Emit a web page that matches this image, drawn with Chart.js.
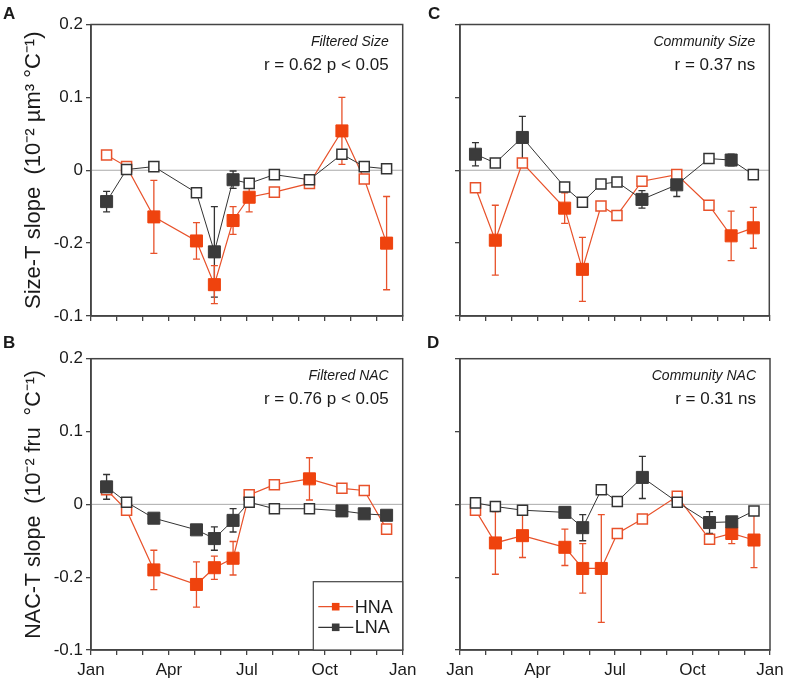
<!DOCTYPE html>
<html>
<head>
<meta charset="utf-8">
<script src="https://cdn.jsdelivr.net/npm/chart.js@4.4.1/dist/chart.umd.min.js"></script>
<style>
  html, body { margin: 0; padding: 0; background: #fff; }
  body { width: 787px; height: 683px; position: relative; overflow: hidden; }
  canvas { position: absolute; }
</style>
</head>
<body>
<canvas id="cA" width="425" height="340" style="left:0px;top:0px;"></canvas>
<canvas id="cC" width="377" height="340" style="left:410px;top:0px;"></canvas>
<canvas id="cB" width="425" height="353" style="left:0px;top:330px;"></canvas>
<canvas id="cD" width="377" height="353" style="left:410px;top:330px;"></canvas>
<script>
// ---------- data ----------
const months = [0.6, 1.37, 2.42, 4.06, 4.75, 5.47, 6.09, 7.06, 8.41, 9.66, 10.52, 11.38];
const xTickLabels = {0: 'Jan', 3: 'Apr', 6: 'Jul', 9: 'Oct', 12: 'Jan'};
// y tick labels as printed, top to bottom
const yTickLabelsTopDown = ['0.2', '0.1', '0', '-0.2', '-0.1'];
const seriesNames = ['HNA', 'LNA'];

// Panel A: Filtered Size
const hnaA = [0.021, 0.005, -0.064, -0.097, -0.157, -0.069, -0.037, -0.030, -0.018, 0.054, -0.012, -0.100];
const hnaAErr = [0, 0, 0.050, 0.025, 0.026, 0.019, 0.020, 0, 0, 0.046, 0, 0.064];
const hnaAFilled = [0, 0, 1, 1, 1, 1, 1, 0, 0, 1, 0, 1];
const lnaA = [-0.043, 0.001, 0.005, -0.031, -0.112, -0.013, -0.018, -0.006, -0.013, 0.022, 0.005, 0.002];
const lnaAErr = [0.014, 0, 0, 0, 0.062, 0.012, 0, 0, 0, 0, 0, 0];
const lnaAFilled = [1, 0, 0, 0, 1, 1, 0, 0, 0, 0, 0, 0];

// Panel B: Filtered NAC
const hnaB = [0.020, -0.008, -0.090, -0.110, -0.087, -0.074, 0.013, 0.027, 0.035, 0.022, 0.019, -0.034];
const hnaBErr = [0, 0, 0.027, 0.031, 0.016, 0.023, 0, 0, 0.029, 0, 0, 0];
const hnaBFilled = [0, 0, 1, 1, 1, 1, 0, 0, 1, 0, 0, 0];
const lnaB = [0.024, 0.003, -0.019, -0.035, -0.047, -0.022, 0.003, -0.006, -0.006, -0.009, -0.013, -0.015];
const lnaBErr = [0.017, 0, 0, 0, 0.016, 0.016, 0, 0, 0, 0.005, 0.006, 0.006];
const lnaBFilled = [1, 0, 1, 1, 1, 1, 0, 0, 0, 1, 1, 1];

// Panel C: Community Size
const hnaC = [-0.024, -0.096, 0.010, -0.052, -0.136, -0.049, -0.062, -0.015, -0.006, -0.048, -0.090, -0.079];
const hnaCErr = [0, 0.048, 0, 0.021, 0.044, 0, 0, 0, 0, 0, 0.034, 0.028];
const hnaCFilled = [0, 1, 0, 1, 1, 0, 0, 0, 0, 0, 1, 1];
const lnaC = [0.022, 0.010, 0.045, -0.023, -0.044, -0.019, -0.016, -0.040, -0.020, 0.016, 0.014, -0.006];
const lnaCErr = [0.016, 0, 0.029, 0, 0, 0, 0, 0.012, 0.016, 0, 0.008, 0];
const lnaCFilled = [1, 0, 1, 0, 0, 0, 0, 1, 1, 0, 1, 0];

// Panel D: Community NAC
const hnaD = [-0.008, -0.053, -0.043, -0.059, -0.088, -0.088, -0.040, -0.020, 0.011, -0.048, -0.040, -0.049];
const hnaDErr = [0, 0.043, 0.030, 0.025, 0.034, 0.074, 0, 0, 0, 0, 0.014, 0.038];
const hnaDFilled = [0, 1, 1, 1, 1, 1, 0, 0, 0, 0, 1, 1];
const lnaD = [0.002, -0.003, -0.008, -0.011, -0.032, 0.020, 0.004, 0.037, 0.003, -0.025, -0.024, -0.009];
const lnaDErr = [0, 0, 0, 0, 0.018, 0, 0, 0.029, 0, 0.015, 0, 0];
const lnaDFilled = [0, 0, 0, 1, 1, 0, 0, 1, 0, 1, 1, 0];

// ---------- styles ----------
const FONT = "'Liberation Sans', Arial, Helvetica, sans-serif";
const RED_FILL = '#EF430E', RED_LINE = '#E8522B';
const BLK_FILL = '#3B3B3B', BLK_LINE = '#333333';
const AXIS = '#444444';

function makeDataset(label, vals, errs, filled, fill, line, lw) {
  return {
    label: label,
    data: months.map((m, i) => ({x: m, y: vals[i]})),
    errs: errs,
    errColor: line,
    showLine: true,
    borderColor: line,
    borderWidth: lw,
    pointStyle: 'rect',
    pointRadius: c => filled[c.dataIndex] ? 8.5 : 7.1,
    pointHoverRadius: c => filled[c.dataIndex] ? 8.5 : 7.1,
    pointBackgroundColor: c => filled[c.dataIndex] ? fill : '#ffffff',
    pointBorderColor: c => filled[c.dataIndex] ? fill : line,
    pointBorderWidth: c => filled[c.dataIndex] ? 1 : 1.5,
    tension: 0
  };
}

const panelPlugin = {
  id: 'panelPlugin',
  beforeDatasetsDraw(chart) {
    const {ctx, chartArea: a, scales: {x, y}} = chart;
    ctx.save();
    // zero line
    const y0 = y.getPixelForValue(0);
    ctx.strokeStyle = '#ababab';
    ctx.lineWidth = 1;
    ctx.beginPath(); ctx.moveTo(a.left, y0); ctx.lineTo(a.right, y0); ctx.stroke();
    // error bars
    chart.data.datasets.forEach(ds => {
      ctx.strokeStyle = ds.errColor;
      ctx.lineWidth = 1.3;
      ds.data.forEach((p, i) => {
        const e = ds.errs[i];
        if (!e) return;
        const px = x.getPixelForValue(p.x);
        const yt = y.getPixelForValue(p.y + e);
        const yb = y.getPixelForValue(p.y - e);
        ctx.beginPath();
        ctx.moveTo(px, yt); ctx.lineTo(px, yb);
        ctx.moveTo(px - 3.5, yt); ctx.lineTo(px + 3.5, yt);
        ctx.moveTo(px - 3.5, yb); ctx.lineTo(px + 3.5, yb);
        ctx.stroke();
      });
    });
    ctx.restore();
  },
  afterDraw(chart) {
    const {ctx, chartArea: a} = chart;
    const o = chart.options.plugins.panelPlugin;
    ctx.save();
    // frame
    ctx.strokeStyle = AXIS;
    ctx.lineWidth = 1.5;
    ctx.strokeRect(a.left, a.top, a.right - a.left, a.bottom - a.top);
    // annotations
    ctx.fillStyle = '#1a1a1a';
    ctx.textAlign = 'right';
    ctx.textBaseline = 'middle';
    ctx.font = 'italic 14px ' + FONT;
    ctx.fillText(o.title, a.right - 14, a.top + 17.5);
    ctx.font = '17px ' + FONT;
    ctx.fillText(o.stat, a.right - 14, a.top + 40.5);
    // panel letter
    ctx.textAlign = 'left';
    ctx.font = 'bold 17px ' + FONT;
    ctx.fillText(o.letter, o.letterX, o.letterY);
    // legend
    if (o.legend) {
      const lx = 313.3, ly = a.bottom - 68.3;
      ctx.fillStyle = '#fff';
      ctx.fillRect(lx, ly, a.right - lx, a.bottom - ly);
      ctx.strokeStyle = AXIS;
      ctx.lineWidth = 1.2;
      ctx.strokeRect(lx, ly, a.right - lx, a.bottom - ly);
      const items = [
        {name: seriesNames[0], line: RED_LINE, fill: RED_FILL, yy: ly + 25},
        {name: seriesNames[1], line: BLK_LINE, fill: BLK_FILL, yy: ly + 45.6}
      ];
      items.forEach(it => {
        ctx.strokeStyle = it.line;
        ctx.lineWidth = 1.2;
        ctx.beginPath(); ctx.moveTo(lx + 5, it.yy); ctx.lineTo(lx + 40, it.yy); ctx.stroke();
        ctx.fillStyle = it.fill;
        ctx.fillRect(lx + 22.4 - 3.8, it.yy - 3.8, 7.6, 7.6);
        ctx.fillStyle = '#1a1a1a';
        ctx.font = '18px ' + FONT;
        ctx.textAlign = 'left';
        ctx.fillText(it.name, lx + 41.5, it.yy + 1);
      });
    }
    ctx.restore();
  }
};

function makeChart(id, cfg) {
  const yLabelsBottomUp = yTickLabelsTopDown.slice().reverse();
  return new Chart(document.getElementById(id), {
    type: 'scatter',
    data: {
      datasets: [
        makeDataset(seriesNames[1], cfg.lna, cfg.lnaErr, cfg.lnaFilled, BLK_FILL, BLK_LINE, 1),
        makeDataset(seriesNames[0], cfg.hna, cfg.hnaErr, cfg.hnaFilled, RED_FILL, RED_LINE, 1.2)
      ]
    },
    options: {
      responsive: false,
      animation: false,
      devicePixelRatio: 1,
      layout: {padding: {left: 0, top: cfg.padTop, right: cfg.padRight, bottom: 0}},
      plugins: {
        legend: {display: false},
        tooltip: {enabled: false},
        panelPlugin: {title: cfg.title, stat: cfg.stat, letter: cfg.letter,
                      letterX: cfg.letterX, letterY: cfg.letterY, legend: cfg.legend}
      },
      scales: {
        x: {
          type: 'linear', min: 0, max: 12,
          afterFit: s => { s.height = cfg.xH; s.paddingLeft = 0; s.paddingRight = 0; },
          ticks: {
            stepSize: 1, autoSkip: false, maxRotation: 0, padding: 5,
            color: '#1a1a1a', font: {family: FONT, size: 17},
            callback: v => cfg.xLabels ? (xTickLabels[Math.round(v)] || '') : ''
          },
          grid: {drawOnChartArea: false, drawTicks: true, tickLength: 5, color: AXIS, lineWidth: 1.3},
          border: {display: true, color: AXIS, width: 1.5}
        },
        y: {
          type: 'linear', min: -0.2, max: 0.2,
          afterFit: s => { s.width = cfg.yW; s.paddingTop = 0; s.paddingBottom = 0; },
          ticks: {
            stepSize: 0.1, padding: 3, display: cfg.yLabels,
            color: '#1a1a1a', font: {family: FONT, size: 17},
            callback: (v, i) => yLabelsBottomUp[i]
          },
          title: {
            display: !!cfg.yTitle, text: cfg.yTitle || '',
            color: '#1a1a1a', font: {family: FONT, size: cfg.yTitleSize || 21.5},
            padding: {top: 21, bottom: 0}
          },
          grid: {drawOnChartArea: false, drawTicks: true, tickLength: 5, color: AXIS, lineWidth: 1.3},
          border: {display: true, color: AXIS, width: 1.5}
        }
      }
    },
    plugins: [panelPlugin]
  });
}

makeChart('cA', {hna: hnaA, hnaErr: hnaAErr, hnaFilled: hnaAFilled, lna: lnaA, lnaErr: lnaAErr, lnaFilled: lnaAFilled,
  title: 'Filtered Size', stat: 'r = 0.62 p < 0.05', letter: 'A', letterX: 3, letterY: 14.5,
  padTop: 24.5, padRight: 22.3, xH: 24, yW: 91, xLabels: false, yLabels: true, yTitleSize: 22,
  yTitle: 'Size-T slope  (10\u207B\u00B2 \u00B5m\u00B3 \u00B0C\u207B\u00B9)'});
makeChart('cC', {hna: hnaC, hnaErr: hnaCErr, hnaFilled: hnaCFilled, lna: lnaC, lnaErr: lnaCErr, lnaFilled: lnaCFilled,
  title: 'Community Size', stat: 'r = 0.37 ns', letter: 'C', letterX: 18, letterY: 14.5,
  padTop: 24.5, padRight: 17.7, xH: 24, yW: 50, xLabels: false, yLabels: false});
makeChart('cB', {hna: hnaB, hnaErr: hnaBErr, hnaFilled: hnaBFilled, lna: lnaB, lnaErr: lnaBErr, lnaFilled: lnaBFilled,
  title: 'Filtered NAC', stat: 'r = 0.76 p < 0.05', letter: 'B', letterX: 3, letterY: 13,
  padTop: 28.7, padRight: 22.3, xH: 33, yW: 91, xLabels: true, yLabels: true, legend: true, yTitleSize: 21.5,
  yTitle: 'NAC-T slope  (10\u207B\u00B2 fru  \u00B0C\u207B\u00B9)'});
makeChart('cD', {hna: hnaD, hnaErr: hnaDErr, hnaFilled: hnaDFilled, lna: lnaD, lnaErr: lnaDErr, lnaFilled: lnaDFilled,
  title: 'Community NAC', stat: 'r = 0.31 ns', letter: 'D', letterX: 17, letterY: 13,
  padTop: 28.7, padRight: 17, xH: 33, yW: 50, xLabels: true, yLabels: false});
</script>
</body>
</html>
